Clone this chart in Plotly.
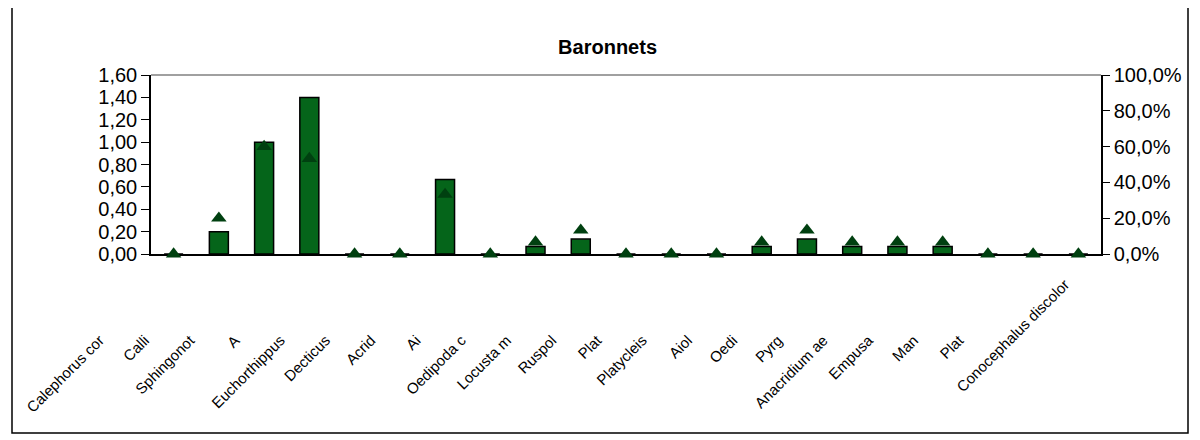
import plotly.graph_objects as go

# ---- data ----
labels = ["Calephorus cor", "Calli", "Sphingonot", "A", "Euchorthippus", "Decticus",
          "Acrid", "Ai", "Oedipoda c", "Locusta m", "Ruspol", "Plat", "Platycleis",
          "Aiol", "Oedi", "Pyrg", "Anacridium ae", "Empusa", "Man", "Plat",
          "Conocephalus discolor"]
bar_values = [0, 0.20, 1.00, 1.40, 0, 0, 0.667, 0, 0.067, 0.133, 0, 0, 0,
              0.067, 0.133, 0.067, 0.067, 0.067, 0, 0, 0]
pct_values = [0, 0.20, 0.60, 0.533, 0, 0, 0.333, 0, 0.067, 0.133, 0, 0, 0,
              0.067, 0.133, 0.067, 0.067, 0.067, 0, 0, 0]
left_ticks = [0, 0.2, 0.4, 0.6, 0.8, 1.0, 1.2, 1.4, 1.6]
right_ticks = [0, 0.2, 0.4, 0.6, 0.8, 1.0]

n = len(labels)
idx = list(range(n))
bounds = [i - 0.5 for i in range(n + 1)]
# the last (long) label sits higher in the reference: draw it as an annotation
tick_text = labels[:-1] + [""]

FONT = "Liberation Sans, Arial, sans-serif"
OFF = 8  # page body margin
W, H = 1200 - OFF, 440 - OFF
L, R, T, B = 151 - OFF, 1101 - OFF, 75 - OFF, 254 - OFF
PW, PH = R - L, B - T

fig = go.Figure()
fig.add_trace(go.Bar(
    x=idx, y=bar_values, xaxis="x", yaxis="y",
    marker=dict(color="#05651a", line=dict(color="black", width=1.5)),
    width=0.42, showlegend=False, hoverinfo="skip"))
fig.add_trace(go.Scatter(
    x=idx, y=pct_values, xaxis="x", yaxis="y2", mode="markers",
    marker=dict(symbol="triangle-up", size=13.5, color="#004010"),
    showlegend=False, hoverinfo="skip", cliponaxis=False))

fig.update_layout(
    width=W, height=H,
    margin=dict(l=L, r=W - R, t=T, b=H - B, autoexpand=False),
    paper_bgcolor="white", plot_bgcolor="white",
    separators=",.",
    font=dict(family=FONT, color="black", size=20),
    title=dict(text="<b>Baronnets</b>", x=0.503, xanchor="center",
               y=1 - (47 - OFF) / H, yanchor="middle", yref="container",
               font=dict(family=FONT, size=20, color="black")),
    xaxis=dict(range=[-0.5, n - 0.5], tickmode="array", tickvals=idx,
               ticktext=tick_text, tickangle=-45, ticks="", showgrid=False,
               zeroline=False, showline=True, linecolor="black", linewidth=1.5,
               tickfont=dict(size=15, family=FONT), automargin=False,
               ticklabelstandoff=70, ticklabelshift=-74, layer="below traces"),
    xaxis2=dict(overlaying="x", matches="x", anchor="y", side="bottom",
                tickmode="array", tickvals=bounds, ticks="outside", ticklen=6,
                tickcolor="black", tickwidth=1, showticklabels=False,
                showgrid=False, zeroline=False, showline=False,
                layer="below traces"),
    yaxis=dict(range=[0, 1.6], tickmode="array", tickvals=left_ticks,
               tickformat=".2f", ticks="outside", ticklen=8, tickcolor="black",
               showline=True, linecolor="black", linewidth=1.5, showgrid=False,
               zeroline=False, automargin=False, tickfont=dict(size=20)),
    yaxis2=dict(range=[0, 1.0], overlaying="y", side="right", anchor="x",
                tickmode="array", tickvals=right_ticks, tickformat=".1%",
                ticks="outside", ticklen=7, tickcolor="black",
                showline=True, linecolor="black", linewidth=1.5, showgrid=False,
                zeroline=False, automargin=False, tickfont=dict(size=20)),
    annotations=[dict(text=labels[-1], x=idx[-1], xref="x", y=0, yref="paper",
                      xanchor="right", yanchor="top", xshift=-3, yshift=-19,
                      textangle=-45, showarrow=False,
                      font=dict(size=15, family=FONT, color="black"))],
    shapes=[
        dict(type="line", xref="paper", yref="paper", x0=0, x1=1, y0=1, y1=1,
             line=dict(color="#808080", width=1.5)),
        dict(type="rect", xref="paper", yref="paper",
             x0=(12 - 151) / PW, x1=(1188 - 151) / PW,
             y0=(254 - 433) / PH, y1=(254 - 7) / PH,
             line=dict(color="black", width=1.5), layer="below"),
    ],
)

fig.write_html("out.html")
